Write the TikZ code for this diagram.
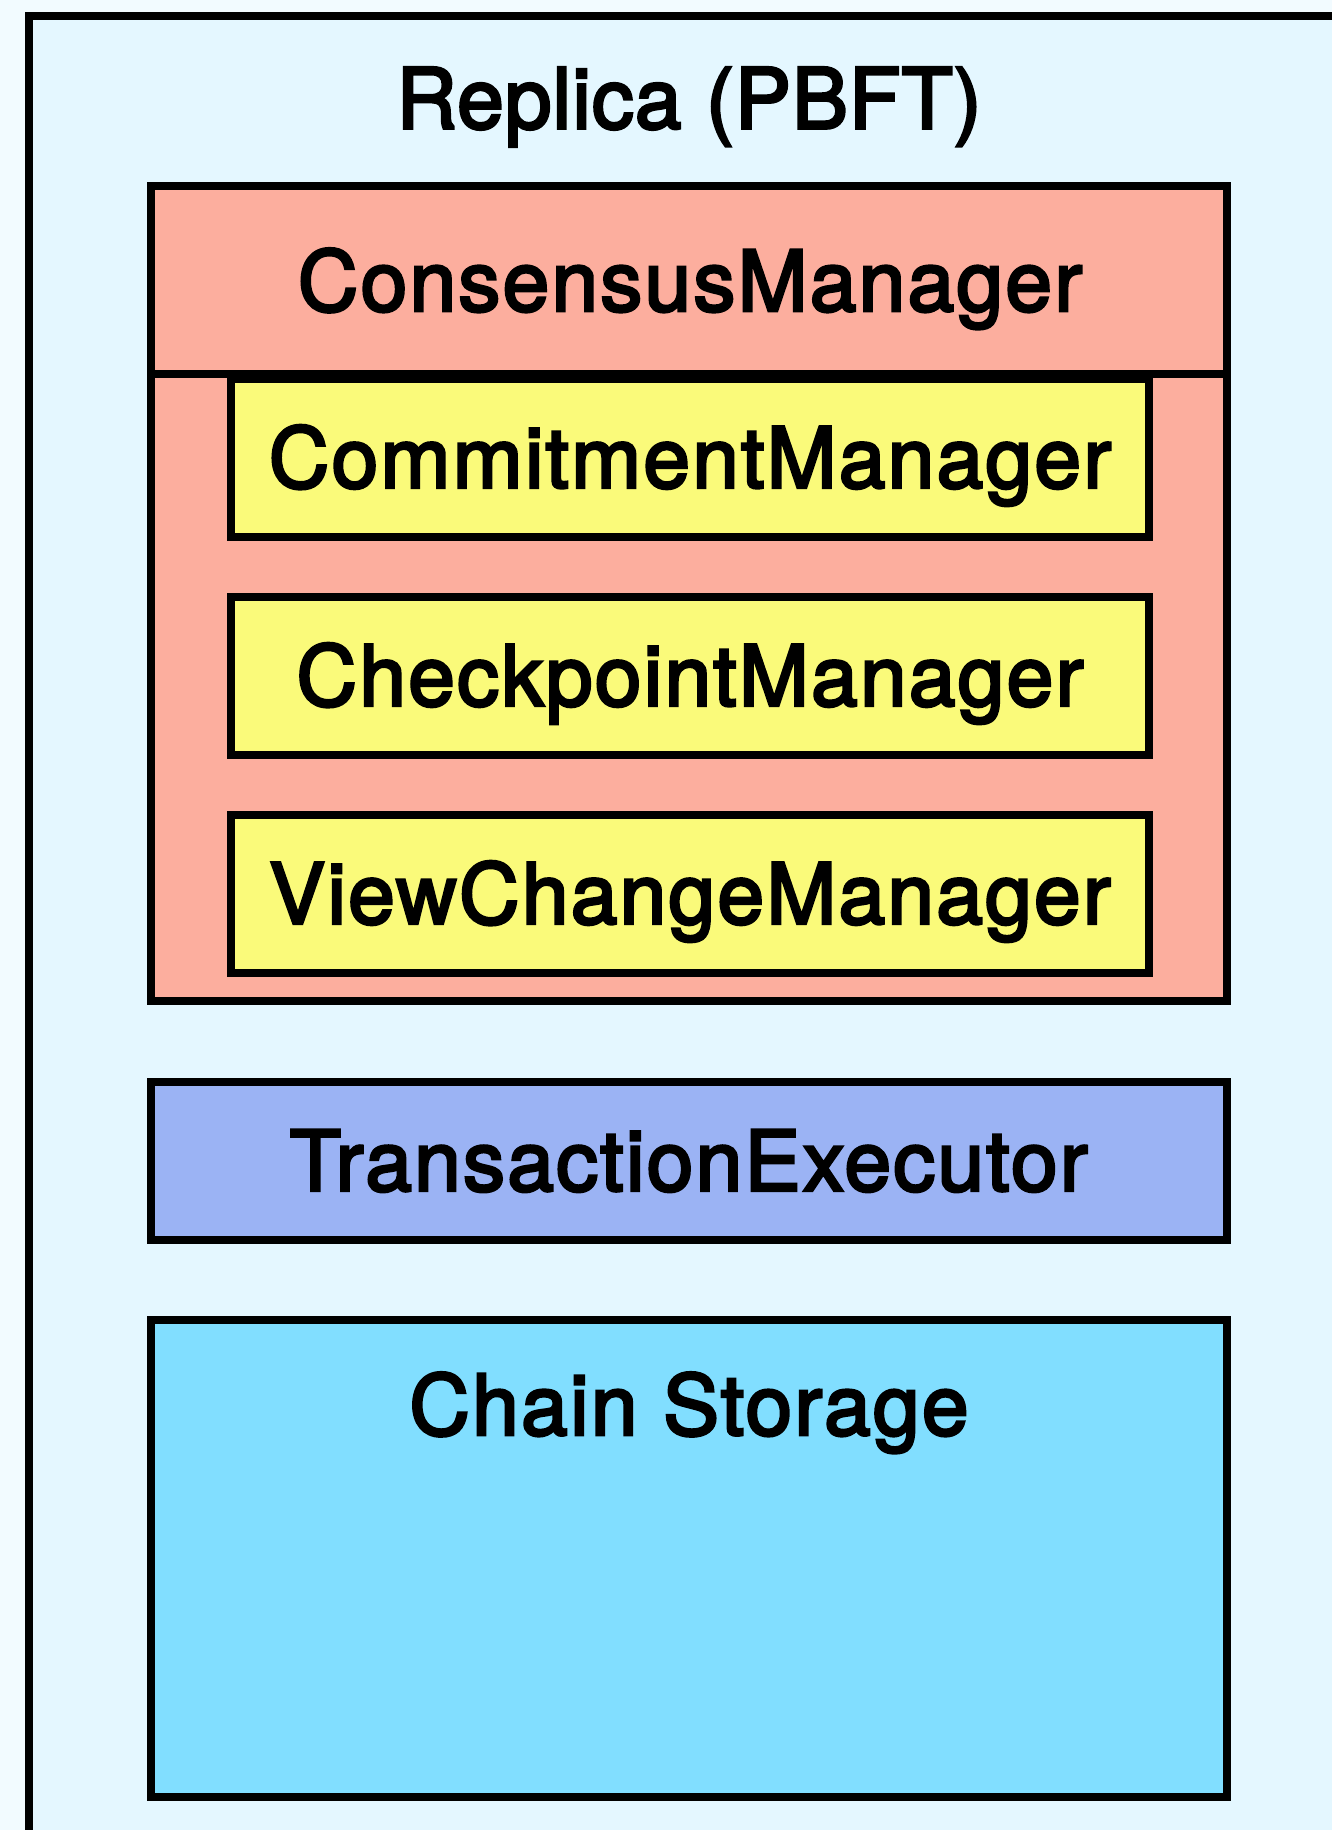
\documentclass[tikz,border=0pt]{standalone}
\usepackage{fontspec}
\setmainfont{TeX Gyre Heros}
\newfontfamily\boxfont{TeX Gyre Heros}[FakeBold=3.2, LetterSpace=2.6]
\newfontfamily\headfont{TeX Gyre Heros}[FakeBold=3.2, LetterSpace=1.2]
\definecolor{pagebg}{HTML}{F2FBFF}
\definecolor{replicafill}{HTML}{E4F7FF}
\definecolor{consfill}{HTML}{FCAE9E}
\definecolor{subfill}{HTML}{FAFA7A}
\definecolor{execfill}{HTML}{9BB3F4}
\definecolor{storefill}{HTML}{81DEFF}
\tikzset{
  unit/.style={draw=black, line width=4pt, outer sep=0pt, inner sep=0pt,
    rectangle, font=\boxfont\fontsize{42}{50}\selectfont},
  wide/.style={unit, minimum width=537.75pt},
  sub/.style={unit, fill=subfill, minimum width=459.4pt, minimum height=79.25pt,
    text height=30pt, text depth=0pt},
  title/.style={inner sep=0pt, font=\boxfont\fontsize{42}{50}\selectfont,
    text height=30pt, text depth=0pt},
}
\begin{document}
\begin{tikzpicture}[x=0.5pt, y=-0.5pt]
  \useasboundingbox (0,0) rectangle (1332,1830);
  \clip (0,0) rectangle (1332,1830);
  \fill[pagebg] (0,0) rectangle (1332,1830);

  % replica frame, running off the right and bottom edges
  \draw[line width=4pt, fill=replicafill] (29,1900) rectangle (1400,16.5);
  \node[title, font=\headfont\fontsize{42}{50}\selectfont] (replica) at (689,98.5) {Replica (PBFT)};

  % consensus manager with its three sub-managers
  \node[wide, fill=consfill, minimum height=407.5pt] (cm) at (688.75,593.5) {};
  \coordinate (hdr) at (0,374);
  \draw[line width=4pt] (cm.west |- hdr) -- (cm.east |- hdr);
  \node[title] (cmtitle) at (690,281) {ConsensusManager};

  \node[sub] (commit) at (690,457.75) {CommitmentManager};
  \node[sub] (checkpt) at (690,675.75) {CheckpointManager};
  \node[sub] (viewch) at (690,893.75) {ViewChangeManager};

  % executor and storage
  \node[wide, fill=execfill, minimum height=78.85pt, text height=30pt, text depth=0pt]
    (exec) at (688.75,1160.85) {TransactionExecutor};
  \node[wide, fill=storefill, minimum height=238.5pt] (store) at (688.75,1558.5) {};
  \node[title] (storetitle) at (689,1405) {Chain Storage};
\end{tikzpicture}
\end{document}
